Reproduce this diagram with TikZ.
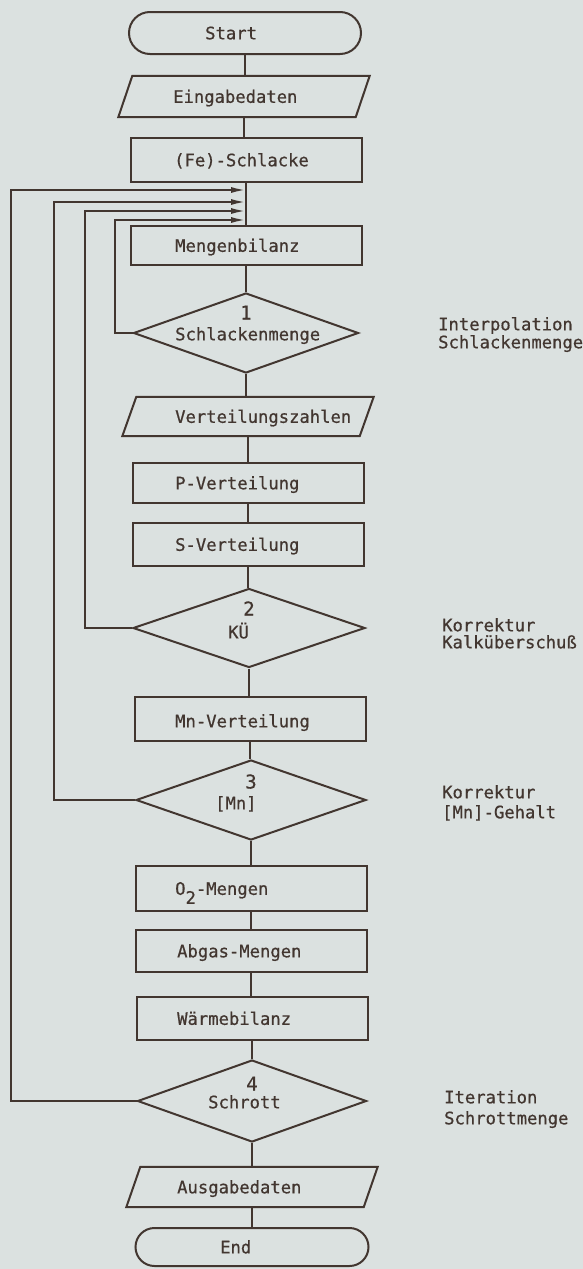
\documentclass[tikz,border=0pt]{standalone}
\usepackage{fontspec}
\newfontfamily\dvm[FakeBold=0.6]{DejaVu Sans Mono}
\usetikzlibrary{shapes.geometric,shapes.misc,arrows.meta,calc}
\definecolor{bg}{RGB}{219,225,224}
\definecolor{ink}{RGB}{66,54,48}
\newcommand\iodraw[2]{\draw[line] ($(#1.south west)+(-#2,0)$) -- ($(#1.north west)+(#2,0)$) -- ($(#1.north east)+(#2,0)$) -- ($(#1.south east)+(-#2,0)$) -- cycle;}
\begin{document}
\begin{tikzpicture}[x=1pt,y=-1pt,
  line/.style={draw=ink,line width=2pt},
  box/.style={line,rectangle,minimum width=231pt,inner sep=0pt},
  term/.style={line,rounded rectangle,inner sep=0pt},
  dia/.style={line,diamond,inner sep=0pt},
  io/.style={rectangle,draw=none,inner sep=0pt,minimum width=237pt},
  txt/.style={text=ink,font=\dvm\fontsize{17.2}{20}\selectfont,inner sep=0pt,anchor=base west},
  num/.style={text=ink,font=\dvm\fontsize{19}{20}\selectfont,inner sep=0pt,anchor=base},
  conn/.style={line},
  fb/.style={line,-{Latex[length=15pt,width=6pt]}}
]
\fill[bg] (0,0) rectangle (583,1269);
\useasboundingbox (0,0) rectangle (583,1269);

% shapes
\node[term,minimum width=232pt,minimum height=42pt] (start) at (245,33) {};
\node[io,minimum height=41pt] (eg) at (244,96.5) {};
\iodraw{eg}{7}
\node[box,minimum height=44pt] (fe) at (246,160) {};
\node[box,minimum height=39pt] (mb) at (246,245.5) {};
\node[dia,minimum width=225pt,minimum height=80pt] (d1) at (246,333) {};
\node[io,minimum height=39pt] (vz) at (248,416.5) {};
\iodraw{vz}{7}
\node[box,minimum height=40pt] (pv) at (248,483) {};
\node[box,minimum height=43pt] (sv) at (248,544.5) {};
\node[dia,minimum width=232pt,minimum height=79pt] (d2) at (249,628) {};
\node[box,minimum height=44pt] (mn) at (250,719) {};
\node[dia,minimum width=230pt,minimum height=80pt] (d3) at (251,800) {};
\node[box,minimum height=45pt] (o2) at (251,888.5) {};
\node[box,minimum height=42pt] (ab) at (251,951) {};
\node[box,minimum height=43pt] (wb) at (252,1018.5) {};
\node[dia,minimum width=229pt,minimum height=82pt] (d4) at (252,1101) {};
\node[io,minimum height=40pt] (ag) at (252,1187) {};
\iodraw{ag}{7}
\node[term,minimum width=233pt,minimum height=38pt] (en) at (252,1247) {};

% texts in shapes
\node[txt] (tstart) at (205,39.3) {Start};
\node[txt] (teg) at (173,102.8) {Eingabedaten};
\node[txt] (tfe) at (174,166.3) {(Fe)-Schlacke};
\node[txt] (tmb) at (175,251.8) {Mengenbilanz};
\node[num] (n1) at (246,319.5) {1};
\node[txt] (td1) at (175,340.3) {Schlackenmenge};
\node[txt] (tvz) at (175,422.8) {Verteilungszahlen};
\node[txt] (tpv) at (175,489.3) {P-Verteilung};
\node[txt] (tsv) at (175,550.8) {S-Verteilung};
\node[num] (n2) at (249,615.5) {2};
\node[txt] (td2) at (228,638.3) {KÜ};
\node[txt] (tmn) at (175,727.3) {Mn-Verteilung};
\node[num] (n3) at (251,788.5) {3};
\node[txt] (td3) at (215,809.3) {[Mn]};
\node[txt] (to2) at (175,894.8) {O\raisebox{-9pt}{2}-Mengen};
\node[txt] (tab) at (177,957.3) {Abgas-Mengen};
\node[txt] (twb) at (177,1024.8) {Wärmebilanz};
\node[num] (n4) at (252,1090.5) {4};
\node[txt] (td4) at (208,1108.3) {Schrott};
\node[txt] (tag) at (177,1193.3) {Ausgabedaten};
\node[txt] (ten) at (220,1253.3) {End};

% side remarks
\node[txt] (r1a) at (438,330.3) {Interpolation};
\node[txt] (r1b) at (438,348.3) {Schlackenmenge};
\node[txt] (r2a) at (442,631.3) {Korrektur};
\node[txt] (r2b) at (442,648.3) {Kalküberschuß};
\node[txt] (r3a) at (442,798.3) {Korrektur};
\node[txt] (r3b) at (442,818.3) {[Mn]-Gehalt};
\node[txt] (r4a) at (444,1103.3) {Iteration};
\node[txt] (r4b) at (444,1124.3) {Schrottmenge};

% main flow
\draw[conn] (start.south) -- (start.south |- eg.north);
\draw[conn] (eg.south) -- (eg.south |- fe.north);
\draw[conn] (fe.south) -- (fe.south |- mb.north);
\draw[conn] (mb.south) -- (mb.south |- d1.north);
\draw[conn] (d1.south) -- (d1.south |- vz.north);
\draw[conn] (vz.south) -- (vz.south |- pv.north);
\draw[conn] (pv.south) -- (pv.south |- sv.north);
\draw[conn] (sv.south) -- (sv.south |- d2.north);
\draw[conn] (d2.south) -- (d2.south |- mn.north);
\draw[conn] (mn.south) -- (mn.south |- d3.north);
\draw[conn] (d3.south) -- (d3.south |- o2.north);
\draw[conn] (o2.south) -- (o2.south |- ab.north);
\draw[conn] (ab.south) -- (ab.south |- wb.north);
\draw[conn] (wb.south) -- (wb.south |- d4.north);
\draw[conn] (d4.south) -- (d4.south |- ag.north);
\draw[conn] (ag.south) -- (ag.south |- en.north);

% feedback loops
\coordinate (in1) at (246,220);
\coordinate (in2) at (246,211);
\coordinate (in3) at (246,202);
\coordinate (in4) at (246,190);
\draw[fb] (d1.west) -- ++(-18,0) |- (in1);
\draw[fb] (d2.west) -- ++(-47,0) |- (in2);
\draw[fb] (d3.west) -- ++(-81,0) |- (in3);
\draw[fb] (d4.west) -- ++(-126,0) |- (in4);
\end{tikzpicture}
\end{document}
